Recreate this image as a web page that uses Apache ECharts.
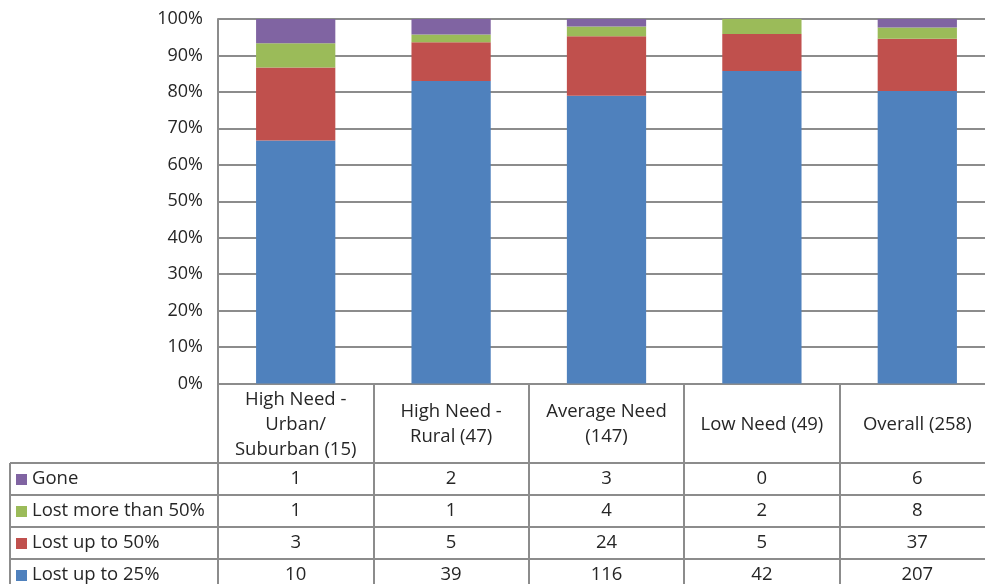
<!DOCTYPE html>
<html>
<head>
<meta charset="utf-8">
<script src="https://cdn.jsdelivr.net/npm/echarts@6/dist/echarts.min.js"></script>
<style>
  html, body { margin: 0; padding: 0; background: #fff; overflow: hidden; }
  #chart { width: 1000px; height: 584px; }
</style>
</head>
<body>
<div id="chart"></div>
<script>
// Groups and their sample sizes
const categories = [
  'High Need -\nUrban/\nSuburban (15)',
  'High Need -\nRural (47)',
  'Average Need\n(147)',
  'Low Need (49)',
  'Overall (258)'
];

// Counts per outcome, per group
const lostUpTo25 = [10, 39, 116, 42, 207];
const lostUpTo50 = [3, 5, 24, 5, 37];
const lostMoreThan50 = [1, 1, 4, 2, 8];
const gone = [1, 2, 3, 0, 6];

const yTickLabels = ['0%', '10%', '20%', '30%', '40%', '50%', '60%', '70%', '80%', '90%', '100%'];

const FONT = '"Open Sans"';
const FONT_SIZE = 18.5;
const TEXT = '#262626';
const LINE = '#8c8c8c';

// Series in stacking order (bottom to top) and table order (top to bottom)
const seriesDefs = [
  { name: 'Lost up to 25%', data: lostUpTo25, color: '#4F81BD' },
  { name: 'Lost up to 50%', data: lostUpTo50, color: '#C0504D' },
  { name: 'Lost more than 50%', data: lostMoreThan50, color: '#9BBB59' },
  { name: 'Gone', data: gone, color: '#8064A2' }
];
const tableRows = seriesDefs.slice().reverse();

const totals = categories.map((_, i) =>
  seriesDefs.reduce((s, d) => s + d.data[i], 0));

// Plot area geometry
const gridLeft = 218, gridTop = 19, gridHeight = 365, gridWidth = 777;
const headerHeight = 79, rowHeight = 32;
const axisY = gridTop + gridHeight;
const tableLeft = 10;

// One hidden category axis per table row to place the counts under each column
const rowAxes = tableRows.map((row, r) => ({
  type: 'category',
  data: categories,
  gridIndex: 0,
  position: 'bottom',
  offset: headerHeight + rowHeight * r + rowHeight / 2,
  axisLine: { show: false },
  axisTick: { show: false },
  splitLine: { show: false },
  axisLabel: {
    margin: 0,
    verticalAlign: 'middle',
    fontFamily: FONT,
    fontSize: FONT_SIZE,
    color: TEXT,
    interval: 0,
    formatter: (v, idx) => String(row.data[idx])
  }
}));

const graphics = [];
// Horizontal table rules
for (let r = 0; r <= tableRows.length; r++) {
  const y = axisY + headerHeight + rowHeight * r;
  graphics.push({
    type: 'line', silent: true,
    shape: { x1: tableLeft, y1: y, x2: gridLeft + gridWidth, y2: y },
    style: { stroke: LINE, lineWidth: 2 }
  });
}
// Left border of the legend column
graphics.push({
  type: 'line', silent: true,
  shape: { x1: tableLeft, y1: axisY + headerHeight, x2: tableLeft, y2: 584 },
  style: { stroke: LINE, lineWidth: 2 }
});
// Legend keys and names
tableRows.forEach((row, r) => {
  const cy = axisY + headerHeight + rowHeight * r + rowHeight / 2;
  graphics.push({
    type: 'rect', silent: true,
    shape: { x: 16, y: cy - 5, width: 11, height: 11 },
    style: { fill: row.color }
  });
  graphics.push({
    type: 'text', silent: true,
    x: 32, y: cy,
    style: {
      text: row.name, fontFamily: FONT, fontSize: FONT_SIZE, fill: TEXT,
      verticalAlign: 'middle', align: 'left'
    }
  });
});

const chart = echarts.init(document.getElementById('chart'), null, { renderer: 'canvas' });

chart.setOption({
  animation: false,
  backgroundColor: '#fff',
  grid: { left: gridLeft, top: gridTop, width: gridWidth, height: gridHeight, containLabel: false },
  xAxis: [{
    type: 'category',
    data: categories,
    boundaryGap: true,
    axisLine: { show: true, lineStyle: { color: LINE, width: 2 } },
    axisTick: {
      show: true, length: headerHeight + rowHeight * 4 + 10,
      lineStyle: { color: LINE, width: 2 }
    },
    axisLabel: {
      interval: 0,
      margin: headerHeight / 2 + 1.5,
      verticalAlign: 'middle',
      lineHeight: 25,
      fontFamily: FONT,
      fontSize: FONT_SIZE,
      color: TEXT
    }
  }].concat(rowAxes),
  yAxis: {
    type: 'value',
    min: 0, max: 100, interval: 10,
    axisLine: { show: true, lineStyle: { color: LINE, width: 2 } },
    axisTick: { show: false },
    splitLine: { show: true, lineStyle: { color: LINE, width: 2 } },
    axisLabel: {
      margin: 15,
      fontFamily: FONT,
      fontSize: 18,
      color: TEXT,
      formatter: v => yTickLabels[Math.round(v / 10)]
    }
  },
  series: seriesDefs.map(d => ({
    name: d.name,
    type: 'bar',
    stack: 'share',
    barWidth: '51%',
    xAxisIndex: 0,
    itemStyle: { color: d.color },
    data: d.data.map((v, i) => v / totals[i] * 100)
  })),
  graphic: graphics
});
</script>
</body>
</html>
